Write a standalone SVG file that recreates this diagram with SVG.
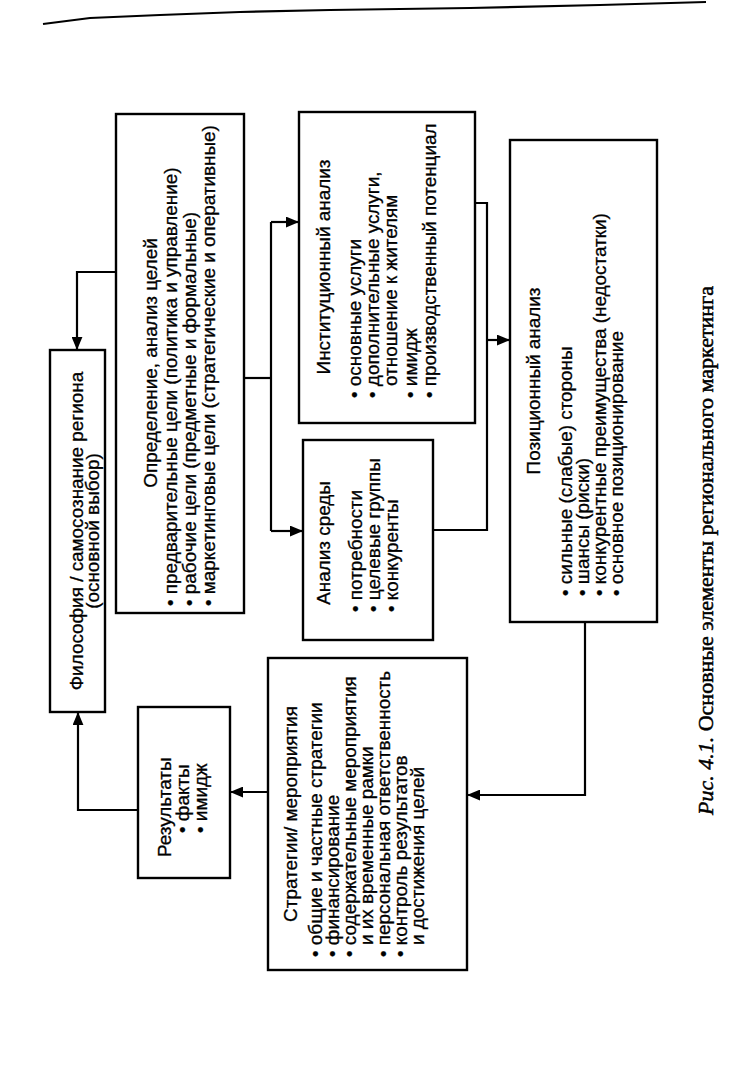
<svg xmlns="http://www.w3.org/2000/svg" width="750" height="1081" viewBox="0 0 750 1081">
<style>
.box{fill:#fff;stroke:#000;stroke-width:2.4}
.t{font-family:"Liberation Sans",Arial,sans-serif;font-size:17.5px;fill:#000;stroke:#000;stroke-width:0.3}
.m{text-anchor:middle}
.c{fill:none;stroke:#000;stroke-width:2.2}
.cap{font-family:"Liberation Serif","Times New Roman",serif;font-size:22px;fill:#000;stroke:#000;stroke-width:0.5}
</style>
<defs>
<marker id="ah" viewBox="0 0 12 10" refX="12" refY="5" markerWidth="13" markerHeight="11" markerUnits="userSpaceOnUse" orient="auto">
<path d="M0,0 L12,5 L0,10 Z" fill="#000"/>
</marker>
</defs>
<rect width="750" height="1081" fill="#fff"/>
<path d="M43,24 L90,18 L160,15 L240,12 L330,10 L470,8 L600,5 L706,2" fill="none" stroke="#000" stroke-width="2.2"/>

<g id="connectors">
<path class="c" d="M116,272 H77 V350" marker-end="url(#ah)"/>
<path class="c" d="M244,378 H271"/>
<path class="c" d="M271,222 V531"/>
<path class="c" d="M271,222 H299" marker-end="url(#ah)"/>
<path class="c" d="M271,531 H303" marker-end="url(#ah)"/>
<path class="c" d="M475,203 H487 V530 H433"/>
<path class="c" d="M487,340 H510" marker-end="url(#ah)"/>
<path class="c" d="M585,622 V795 H467" marker-end="url(#ah)"/>
<path class="c" d="M268,792 H230" marker-end="url(#ah)"/>
<path class="c" d="M138,810 H78 V712" marker-end="url(#ah)"/>
</g>

<g id="philosophy">
<rect class="box" x="50" y="350" width="55" height="362"/>
<text class="t m" transform="matrix(0,-1.08,1,0,82.5,531)">Философия / самосознание региона</text>
<text class="t m" transform="matrix(0,-1.08,1,0,99,531)">(основной выбор)</text>
</g>

<g id="goals">
<rect class="box" x="116" y="114" width="128" height="499"/>
<text class="t m" transform="matrix(0,-1.08,1,0,157,363)">Определение, анализ целей</text>
<text class="t" transform="matrix(0,-1.08,1,0,177,606)">• предварительные цели (политика и управление)</text>
<text class="t" transform="matrix(0,-1.08,1,0,196,606)">• рабочие цели (предметные и формальные)</text>
<text class="t" transform="matrix(0,-1.08,1,0,215,606)">• маркетинговые цели (стратегические и оперативные)</text>
</g>

<g id="institutional">
<rect class="box" x="299" y="112" width="176" height="311"/>
<text class="t m" transform="matrix(0,-1.08,1,0,330,267)">Институционный анализ</text>
<text class="t" transform="matrix(0,-1.08,1,0,361,398)">• основные услуги</text>
<text class="t" transform="matrix(0,-1.08,1,0,379,398)">• дополнительные услуги,</text>
<text class="t" transform="matrix(0,-1.08,1,0,397,386)">отношение к жителям</text>
<text class="t" transform="matrix(0,-1.08,1,0,417,398)">• имидж</text>
<text class="t" transform="matrix(0,-1.08,1,0,436,398)">• производственный потенциал</text>
</g>

<g id="environment">
<rect class="box" x="303" y="440" width="130" height="200"/>
<text class="t m" transform="matrix(0,-1.08,1,0,330,543)">Анализ среды</text>
<text class="t" transform="matrix(0,-1.08,1,0,362,612)">• потребности</text>
<text class="t" transform="matrix(0,-1.08,1,0,380,612)">• целевые группы</text>
<text class="t" transform="matrix(0,-1.08,1,0,398,612)">• конкуренты</text>
</g>

<g id="positional">
<rect class="box" x="510" y="140" width="147" height="482"/>
<text class="t m" transform="matrix(0,-1.08,1,0,540,381)">Позиционный анализ</text>
<text class="t" transform="matrix(0,-1.08,1,0,572,596)">• сильные (слабые) стороны</text>
<text class="t" transform="matrix(0,-1.08,1,0,589,596)">• шансы (риски)</text>
<text class="t" transform="matrix(0,-1.08,1,0,606,596)">• конкурентные преимущества (недостатки)</text>
<text class="t" transform="matrix(0,-1.08,1,0,623,596)">• основное позиционирование</text>
</g>

<g id="strategies">
<rect class="box" x="268" y="658" width="199" height="312"/>
<text class="t m" transform="matrix(0,-1.08,1,0,297,814)">Стратегии/ мероприятия</text>
<text class="t" transform="matrix(0,-1.08,1,0,322,957)">• общие и частные стратегии</text>
<text class="t" transform="matrix(0,-1.08,1,0,339,957)">• финансирование</text>
<text class="t" transform="matrix(0,-1.08,1,0,356,957)">• содержательные мероприятия</text>
<text class="t" transform="matrix(0,-1.08,1,0,373,945)">и их временные рамки</text>
<text class="t" transform="matrix(0,-1.08,1,0,390,957)">• персональная ответственность</text>
<text class="t" transform="matrix(0,-1.08,1,0,407,957)">• контроль результатов</text>
<text class="t" transform="matrix(0,-1.08,1,0,424,945)">и достижения целей</text>
</g>

<g id="results">
<rect class="box" x="138" y="707" width="92" height="171"/>
<text class="t" transform="matrix(0,-1.08,1,0,171,857)">Результаты</text>
<text class="t" transform="matrix(0,-1.08,1,0,189,833)">• факты</text>
<text class="t" transform="matrix(0,-1.08,1,0,207,833)">• имидж</text>
</g>

<g id="caption">
<text class="cap" transform="rotate(-90 713 815)" x="713" y="815"><tspan font-style="italic">Рис. 4.1.</tspan> Основные элементы регионального маркетинга</text>
</g>
</svg>
